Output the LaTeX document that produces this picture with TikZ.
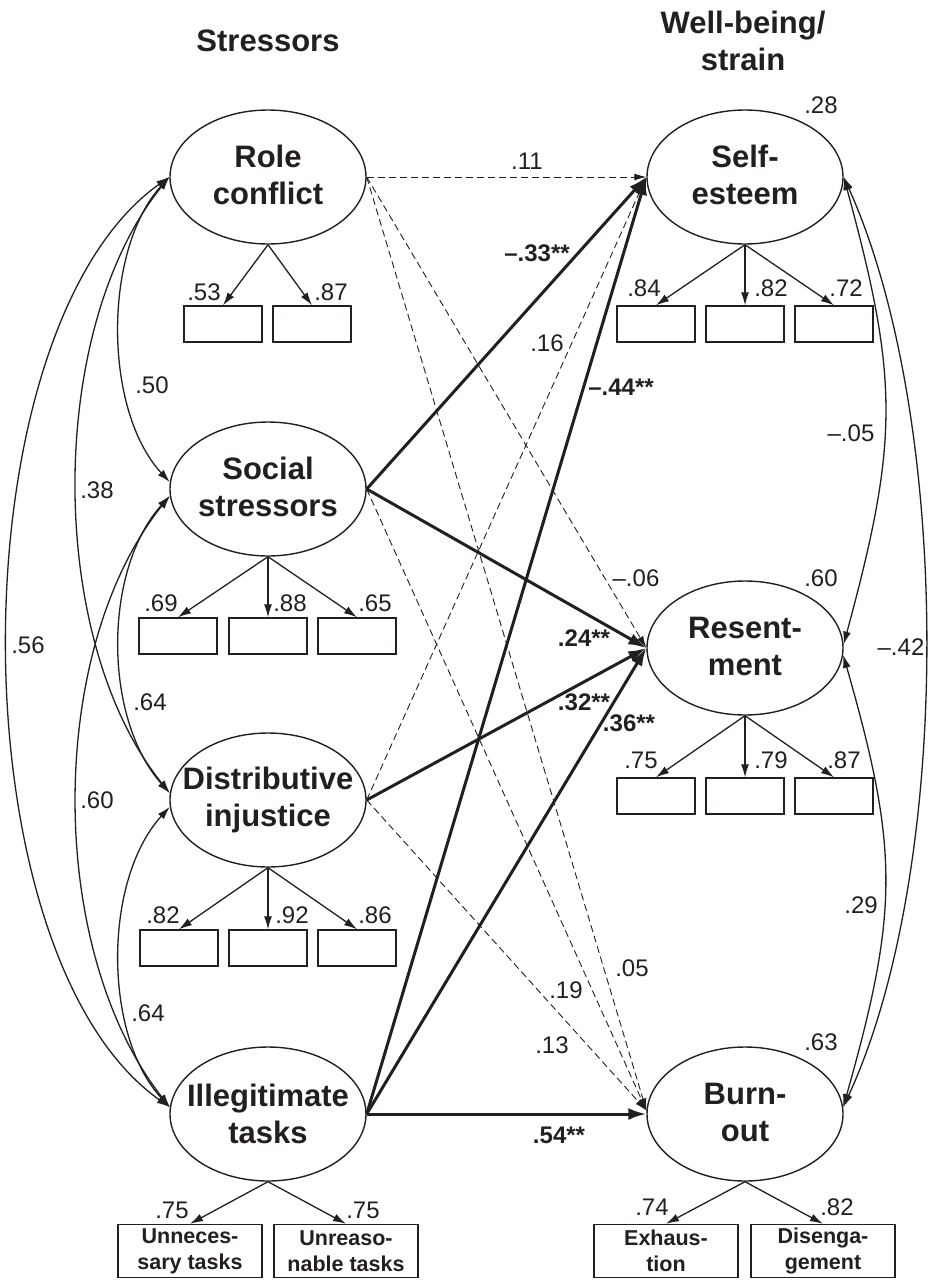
\documentclass[tikz,border=0pt]{standalone}
\usepackage{fontspec}
\setmainfont{Liberation Sans}
\usetikzlibrary{shapes.geometric,arrows.meta,calc}
\definecolor{ink}{HTML}{231F20}
\begin{document}
\begin{tikzpicture}[x=1pt,y=-1pt,
  lat/.style={draw=ink, line width=1.4pt, ellipse, minimum width=196pt, minimum height=134pt, inner sep=0pt},
  lattxt/.style={font=\fontsize{31}{37}\selectfont\bfseries, align=center, text=ink, inner sep=0pt},
  ind/.style={draw=ink, line width=1.4pt, minimum width=78pt, minimum height=36pt, inner sep=0pt},
  indt/.style={draw=ink, line width=1.4pt, minimum width=144pt, minimum height=53pt, inner sep=0pt, font=\fontsize{21.5}{26}\selectfont\bfseries, align=center, text=ink},
  num/.style={font=\fontsize{24}{28}\selectfont, text=ink, inner sep=0pt},
  bnum/.style={font=\fontsize{24}{28}\selectfont\bfseries, text=ink, inner sep=0pt},
  load/.style={draw=ink, line width=1.3pt, -{Latex[length=13pt,width=8pt]}},
  cov/.style={draw=ink, line width=1.3pt, {Latex[length=13pt,width=8pt]}-{Latex[length=13pt,width=8pt]}},
  sig/.style={draw=ink, line width=3pt, -{Latex[length=18pt,width=12pt]}},
  ns/.style={draw=ink, line width=0.9pt, dash pattern=on 7pt off 4pt, -{Latex[length=12pt,width=7pt]}},
  head/.style={font=\fontsize{31}{37}\selectfont\bfseries, align=center, text=ink, inner sep=0pt}
]
\fill[white] (0,0) rectangle (928,1280);
\useasboundingbox (0,0) rectangle (928,1280);

% headers
\node[head] (h1) at (268,41) {Stressors};
\node[head] (h2) at (743,41) {Well-being/\\strain};

% latent variables
\node[lat] (rc) at (268,177) {};
\node[lattxt] (rct) at (268,175) {Role\\conflict};
\node[lat] (ss) at (268,489) {};
\node[lattxt] (sst) at (268,487) {Social\\stressors};
\node[lat] (di) at (268,800) {};
\node[lattxt] (dit) at (268,800) {Distributive\\injustice};
\node[lat] (il) at (268,1114) {};
\node[lattxt] (ilt) at (268,1114) {Illegitimate\\tasks};
\node[lat] (se) at (745,177) {};
\node[lattxt] (set) at (745,175) {Self-\\esteem};
\node[lat] (re) at (745,648) {};
\node[lattxt] (ret) at (745,646) {Resent-\\ment};
\node[lat] (bo) at (745,1114) {};
\node[lattxt] (bot) at (745,1112) {Burn-\\out};

% indicators
\node[ind] (rc1) at (223,324) {};
\node[ind] (rc2) at (312,324) {};
\node[ind] (ss1) at (178,636) {};
\node[ind] (ss2) at (268,636) {};
\node[ind] (ss3) at (357,636) {};
\node[ind] (di1) at (179,948) {};
\node[ind] (di2) at (268,948) {};
\node[ind] (di3) at (357,948) {};
\node[indt] (il1) at (190,1251) {Unneces-\\sary tasks};
\node[indt] (il2) at (346,1251) {Unreaso-\\nable tasks};
\node[ind] (se1) at (656,324) {};
\node[ind] (se2) at (745,324) {};
\node[ind] (se3) at (834,324) {};
\node[ind] (re1) at (656,796) {};
\node[ind] (re2) at (745,796) {};
\node[ind] (re3) at (834,796) {};
\node[indt] (bo1) at (666,1251) {Exhaus-\\tion};
\node[indt] (bo2) at (823,1251) {Disenga-\\gement};

% loadings
\foreach \a/\b in {rc/rc1,rc/rc2,ss/ss1,ss/ss2,ss/ss3,di/di1,di/di2,di/di3,il/il1,il/il2,se/se1,se/se2,se/se3,re/re1,re/re2,re/re3,bo/bo1,bo/bo2}
  \draw[load] (\a.south) -- (\b.north);

% loading labels
\node[num] (l1) at (204,292) {.53};
\node[num] (l2) at (331,292) {.87};
\node[num] (l3) at (161,603) {.69};
\node[num] (l4) at (290,603) {.88};
\node[num] (l5) at (375,603) {.65};
\node[num] (l6) at (163,915) {.82};
\node[num] (l7) at (292,915) {.92};
\node[num] (l8) at (375,915) {.86};
\node[num] (l9) at (172,1210) {.75};
\node[num] (l10) at (363,1210) {.75};
\node[num] (l11) at (644,288) {.84};
\node[num] (l12) at (771,288) {.82};
\node[num] (l13) at (846,288) {.72};
\node[num] (l14) at (641,760) {.75};
\node[num] (l15) at (771,760) {.79};
\node[num] (l16) at (844,760) {.87};
\node[num] (l17) at (652,1207) {.74};
\node[num] (l18) at (837,1207) {.82};

% explained variance
\node[num] (r1) at (821,105) {.28};
\node[num] (r2) at (821,578) {.60};
\node[num] (r3) at (821,1042) {.63};

% covariances left
\draw[cov] (rc.west) .. controls (103,250) and (103,410) .. (ss.176);
\draw[cov] (rc.west) .. controls (46,330) and (46,640) .. (di.176);
\draw[cov] (rc.west) .. controls (-46,330) and (-46,955) .. (il.176);
\draw[cov] (ss.184) .. controls (103,570) and (103,718) .. (di.176);
\draw[cov] (ss.184) .. controls (46,650) and (46,950) .. (il.176);
\draw[cov] (di.184) .. controls (103,880) and (103,1035) .. (il.176);
\node[num] (c1) at (152,385) {.50};
\node[num] (c2) at (97,490) {.38};
\node[num] (c3) at (28,645) {.56};
\node[num] (c4) at (150,702) {.64};
\node[num] (c5) at (97,800) {.60};
\node[num] (c6) at (148,1013) {.64};

% covariances right
\draw[cov] (se.east) .. controls (899,380) and (899,440) .. (re.2);
\draw[cov] (se.east) .. controls (953,420) and (953,870) .. (bo.4);
\draw[cov] (re.356) .. controls (899,850) and (899,910) .. (bo.4);
\node[num] (c7) at (851,433) {–.05};
\node[num] (c8) at (901,647) {–.42};
\node[num] (c9) at (861,905) {.29};

% structural paths
\draw[ns] (rc.east) -- (se.west);
\draw[ns] (rc.east) -- (re.west);
\draw[ns] (rc.east) -- (bo.178);
\draw[sig] (ss.east) -- (se.west);
\draw[sig] (ss.east) -- (re.west);
\draw[ns] (ss.east) -- (bo.178);
\draw[ns] (di.east) -- (se.west);
\draw[sig] (di.east) -- (re.west);
\draw[ns] (di.east) -- (bo.178);
\draw[sig] (il.east) -- (se.west);
\draw[sig] (il.east) -- (re.west);
\draw[sig] (il.east) -- (bo.west);

\node[num] (p1) at (527,161) {.11};
\node[bnum] (p2) at (537,253) {–.33**};
\node[num] (p3) at (547,343) {.16};
\node[bnum] (p4) at (621,387) {–.44**};
\node[num] (p5) at (636,578) {–.06};
\node[bnum] (p6) at (584,638) {.24**};
\node[bnum] (p7) at (584,702) {.32**};
\node[bnum] (p8) at (629,723) {.36**};
\node[num] (p9) at (632,968) {.05};
\node[num] (p10) at (566,990) {.19};
\node[num] (p11) at (552,1045) {.13};
\node[bnum] (p12) at (559,1135) {.54**};
\end{tikzpicture}
\end{document}
